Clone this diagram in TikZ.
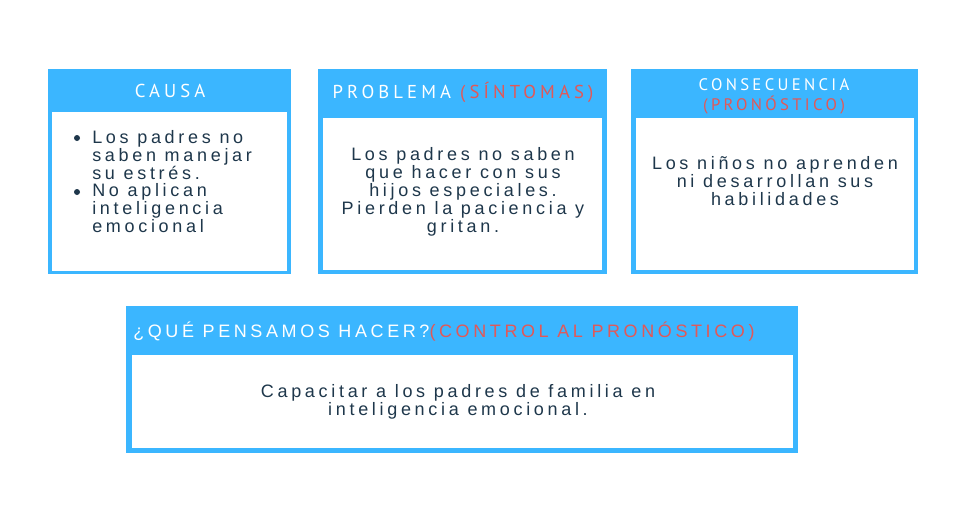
\documentclass[tikz,border=0pt]{standalone}
\usepackage{fontspec}
\setmainfont{Liberation Sans}[LetterSpace=20.5]
\newfontfamily\headfont{PT Sans}[LetterSpace=22]
\newfontfamily\headfontb{PT Sans}[LetterSpace=20]
\newfontfamily\headarial{Liberation Sans}[LetterSpace=20]
\definecolor{boxblue}{RGB}{59,182,255}
\definecolor{txtdark}{RGB}{30,55,75}
\definecolor{redtxt}{RGB}{226,88,88}
\tikzset{
  outerbox/.style={fill=boxblue, draw=none, anchor=north west, inner sep=0pt},
  innerbox/.style={fill=white, draw=none, anchor=north west, inner sep=0pt},
  headtxt/.style={text=white, inner sep=0pt, font=\headfont\fontsize{14pt}{15pt}\selectfont},
  bodytxt/.style={text=txtdark, inner sep=0pt, align=center, font=\fontsize{13.5pt}{13.5pt}\selectfont},
  bullet/.style={circle, fill=txtdark, inner sep=0pt, minimum size=4.5pt},
}
\begin{document}
\begin{tikzpicture}[x=0.75pt,y=-0.75pt]
\useasboundingbox (0,0) rectangle (970,512);
% box 1
\node[outerbox, minimum width=243*0.75pt, minimum height=205*0.75pt] (o1) at (48,69) {};
\node[innerbox, minimum width=235*0.75pt, minimum height=159*0.75pt] (i1) at (52,112) {};
\node[headtxt, anchor=base] (h1) at (170,97) {CAUSA};
\node[bullet] (d1) at (77,138) {};
\node[bodytxt, align=left, anchor=base west] (t1a) at (92,179) {Los padres no\\saben manejar\\su estrés.};
\node[bullet] (d2) at (77,192) {};
\node[bodytxt, align=left, anchor=base west] (t1b) at (92,232) {No aplican\\inteligencia\\emocional};
% box 2
\node[outerbox, minimum width=289*0.75pt, minimum height=205*0.75pt] (o2) at (318,69) {};
\node[innerbox, minimum width=279*0.75pt, minimum height=152*0.75pt] (i2) at (323,118) {};
\node[headtxt, anchor=base] (h2) at (463,98) {PROBLEMA \textcolor{redtxt}{(SÍNTOMAS)}};
\node[bodytxt, anchor=base] (t2) at (463,232) {Los padres no saben\\que hacer con sus\\hijos especiales.\\Pierden la paciencia y\\gritan.};
% box 3
\node[outerbox, minimum width=287*0.75pt, minimum height=205*0.75pt] (o3) at (631,69) {};
\node[innerbox, minimum width=278*0.75pt, minimum height=152*0.75pt] (i3) at (636,118) {};
\node[headtxt, align=center, anchor=base, font=\headfontb\fontsize{12.5pt}{15pt}\selectfont] (h3) at (774,110) {CONSECUENCIA\\\textcolor{redtxt}{(PRONÓSTICO)}};
\node[bodytxt, anchor=base] (t3) at (775,205) {Los niños no aprenden\\ni desarrollan sus\\habilidades};
% box 4
\node[outerbox, minimum width=672*0.75pt, minimum height=147*0.75pt] (o4) at (126,306) {};
\node[innerbox, minimum width=661*0.75pt, minimum height=93*0.75pt] (i4) at (132,355) {};
\node[text=white, inner sep=0pt, anchor=base west, font=\headarial\fontsize{13.5pt}{15pt}\selectfont] (h4) at (133,337) {¿QUÉ PENSAMOS HACER?\textcolor{redtxt}{(CONTROL AL PRONÓSTICO)}};
\node[bodytxt, anchor=base] (t4) at (458,415) {Capacitar a los padres de familia en\\inteligencia emocional.};
\end{tikzpicture}
\end{document}
